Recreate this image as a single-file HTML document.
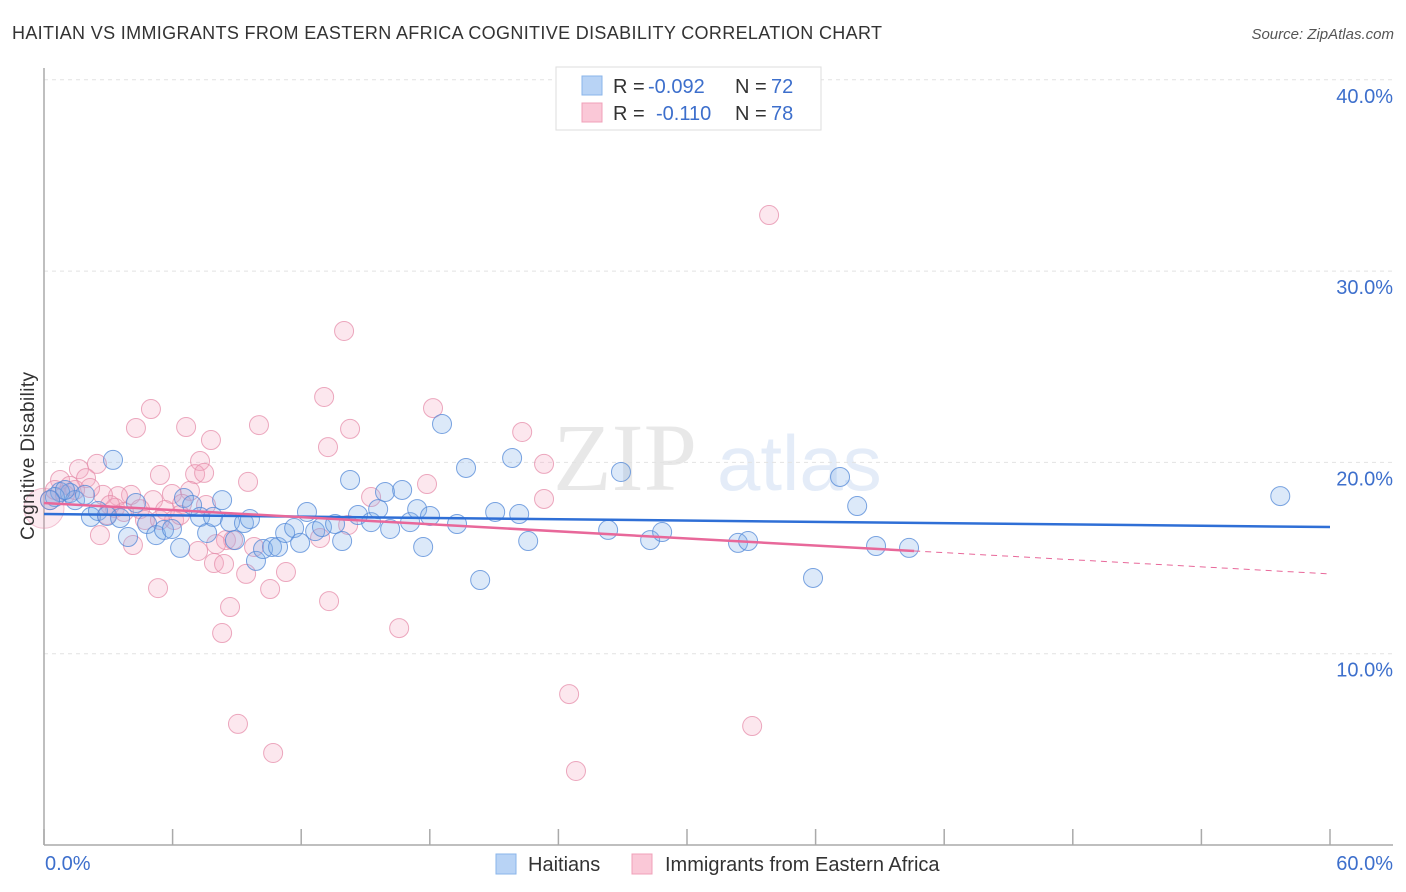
<!DOCTYPE html>
<html><head><meta charset="utf-8"><style>
body{margin:0;background:#fff;font-family:"Liberation Sans",sans-serif;}
svg{display:block}
</style></head><body>
<svg id="chart" width="1406" height="892" xmlns="http://www.w3.org/2000/svg">
<text x="12" y="39" font-size="18" fill="#333" textLength="870">HAITIAN VS IMMIGRANTS FROM EASTERN AFRICA COGNITIVE DISABILITY CORRELATION CHART</text>
<text x="1394" y="39" font-size="15" fill="#555" font-style="italic" text-anchor="end">Source: ZipAtlas.com</text>
<g opacity="0.16">
<text x="553" y="490" font-family="Liberation Serif,serif" font-size="96" fill="#777">ZIP</text>
<text x="717" y="490" font-size="78" fill="#5b8fd8">atlas</text>
</g>
<g id="grid"></g><g id="axes"></g><g id="marks"></g><g id="trends"></g>
<text transform="translate(34,456) rotate(-90)" text-anchor="middle" font-size="19" fill="#333" textLength="168">Cognitive Disability</text>
<text x="45" y="870" font-size="20" fill="#3d6fcc">0.0%</text>
<text x="1393" y="870" font-size="20" fill="#3d6fcc" text-anchor="end">60.0%</text>
<g>
<rect x="556" y="67" width="265" height="63" fill="#fff" stroke="#ddd"/>
<rect x="582" y="76" width="20" height="19" fill="#b8d3f5" stroke="#8ab4ea"/>
<rect x="582" y="103" width="20" height="19" fill="#fac8d7" stroke="#f0a0b8"/>
<text x="613" y="93" font-size="20" fill="#333">R = <tspan x="648" fill="#3d6fcc">-0.092</tspan><tspan x="735">N = </tspan><tspan x="771" fill="#3d6fcc">72</tspan></text>
<text x="613" y="120" font-size="20" fill="#333">R = <tspan x="656" fill="#3d6fcc">-0.110</tspan><tspan x="735">N = </tspan><tspan x="771" fill="#3d6fcc">78</tspan></text>
</g>
<g>
<rect x="496" y="854" width="20" height="20" fill="#b8d3f5" stroke="#8ab4ea"/>
<text x="528" y="871" font-size="20" fill="#333">Haitians</text>
<rect x="632" y="854" width="20" height="20" fill="#fac8d7" stroke="#f0a0b8"/>
<text x="665" y="871" font-size="20" fill="#333">Immigrants from Eastern Africa</text>
</g>
</svg>
<script>
const yTicks=[10,20,30,40];
const yTickLabels=["10.0%","20.0%","30.0%","40.0%"];
const xTicks=[0,6,12,18,24,30,36,42,48,54,60];
const blueX=[3.22,2.19,2.52,2.94,3.55,3.92,4.29,4.81,5.23,5.60,5.97,6.35,6.53,6.91,7.28,7.61,7.89,8.31,8.68,8.91,9.33,9.61,9.89,10.22,10.64,10.92,11.25,11.67,11.95,12.27,12.65,12.97,13.58,13.91,14.28,14.65,15.26,15.59,15.91,16.15,16.71,17.08,17.41,17.69,18.01,18.57,19.27,19.69,20.35,21.05,21.84,22.17,22.59,26.32,26.92,28.28,28.84,32.38,32.85,35.88,37.14,37.94,38.82,40.36,57.68,1.21,0.75,0.51,1.45,0.98,0.28,1.91];
const blueY=[20.13,17.15,17.46,17.20,17.09,16.10,17.88,16.78,16.20,16.47,16.52,15.53,18.14,17.77,17.15,16.31,17.15,18.03,16.88,15.94,16.83,17.04,14.85,15.47,15.58,15.58,16.31,16.57,15.79,17.41,16.41,16.62,16.78,15.89,19.08,17.25,16.88,17.56,18.45,16.52,18.56,16.88,17.56,15.58,17.20,22.01,16.78,19.71,13.85,17.41,20.23,17.30,15.89,16.47,19.50,15.94,16.36,15.79,15.89,13.96,19.24,17.72,15.63,15.53,18.24,18.40,18.45,18.19,18.03,18.56,18.03,18.30];
const pinkX=[33.83,14.0,13.07,4.99,18.15,4.29,6.63,10.03,14.28,22.31,7.79,13.25,7.28,23.33,2.47,1.63,1.96,5.41,7.05,7.47,9.52,17.87,15.26,23.33,4.06,5.09,3.45,2.75,4.48,5.97,6.81,6.44,5.65,7.56,3.31,3.73,6.07,12.88,14.19,2.61,4.15,8.49,8.82,8.03,7.19,9.80,7.93,8.40,11.29,9.43,5.32,10.55,8.68,13.30,8.31,16.57,24.50,9.05,33.04,10.69,24.82,0.75,1.21,0.28,0.51,0.98,1.45,2.15,3.08,4.71,5.41,6.35,2.94];
const pinkY=[32.93,26.87,23.42,22.79,22.84,21.80,21.85,21.95,21.75,21.59,21.17,20.80,20.07,19.92,19.92,19.65,19.18,19.34,19.39,19.45,18.98,18.87,18.19,18.09,18.30,18.03,18.24,18.30,17.56,18.35,18.51,17.83,17.51,17.77,17.62,17.41,16.99,16.05,16.73,16.20,15.68,15.94,15.94,15.73,15.37,15.58,14.74,14.69,14.27,14.17,13.43,13.38,12.44,12.75,11.08,11.34,7.89,6.33,6.22,4.81,3.87,19.08,18.77,18.03,18.56,18.30,18.56,18.66,17.77,16.99,16.99,17.25,17.25];
const blueTrend=[17.30,16.62];
const pinkTrend=[17.88,14.17];
const pinkSolidEnd=40.6;
const NS="http://www.w3.org/2000/svg";
const sx=v=>44+v*(1286/60);
const sy=v=>845-v*19.13;
function mk(tag,attrs,parent){const e=document.createElementNS(NS,tag);for(const k in attrs)e.setAttribute(k,attrs[k]);parent.appendChild(e);return e;}
const grid=document.getElementById('grid'),axes=document.getElementById('axes'),marks=document.getElementById('marks'),trends=document.getElementById('trends');
yTicks.forEach((t,i)=>{
 const l=mk('line',{x1:44,x2:1393,y1:sy(t),y2:sy(t),stroke:'#e2e2e2','stroke-dasharray':'4,4'},grid);
 
 
 const tx=mk('text',{x:1393,y:sy(t)+23,'font-size':20,fill:'#3d6fcc','text-anchor':'end'},grid);
 tx.textContent=yTickLabels[i];
 
 
});
const ya=mk('line',{x1:44,x2:44,y1:68,y2:845,stroke:'#aaa','stroke-width':1.5},axes);


const xa=mk('line',{x1:44,x2:1393,y1:845,y2:845,stroke:'#aaa','stroke-width':1.5},axes);


xTicks.forEach(t=>{
 const l=mk('line',{x1:sx(t),x2:sx(t),y1:829,y2:845,stroke:'#aaa','stroke-width':1.5},axes);
 
 
});
function pts(xs,ys,fill,stroke,name){
 xs.forEach((x,i)=>{
  const c=mk('circle',{cx:sx(x),cy:sy(ys[i]),r:9.5,fill:fill,stroke:stroke,'stroke-width':1},marks);
  
  
 });
}
const big1=mk('circle',{cx:sx(0),cy:sy(17.6),r:20,fill:'rgba(240,150,180,0.2)',stroke:'rgba(232,138,170,0.5)'},marks);


pts(pinkX,pinkY,'rgba(245,170,195,0.28)','rgba(230,140,170,0.75)','point-eastern-africa');
pts(blueX,blueY,'rgba(130,175,235,0.28)','rgba(80,135,215,0.75)','point-haitians');
const bt=mk('line',{x1:sx(0),y1:sy(blueTrend[0]),x2:sx(60),y2:sy(blueTrend[1]),stroke:'#2f6fd6','stroke-width':2.5},trends);


const pAt=x=>pinkTrend[0]+(pinkTrend[1]-pinkTrend[0])*x/60;
const pt=mk('line',{x1:sx(0),y1:sy(pinkTrend[0]),x2:sx(pinkSolidEnd),y2:sy(pAt(pinkSolidEnd)),stroke:'#e8689a','stroke-width':2.5},trends);


const pd=mk('line',{x1:sx(pinkSolidEnd),y1:sy(pAt(pinkSolidEnd)),x2:sx(60),y2:sy(pinkTrend[1]),stroke:'#e8689a','stroke-width':1,'stroke-dasharray':'6,5'},trends);


</script>
</body></html>
